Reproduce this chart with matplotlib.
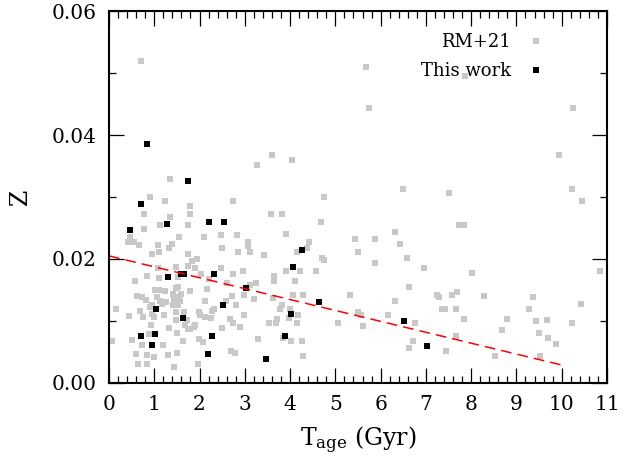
import matplotlib
matplotlib.use('Agg')
from matplotlib import pyplot as plt
from matplotlib.ticker import MultipleLocator

# RM+21 sample (grey)
rm21_age = [0.71, 3.60, 3.26, 1.35, 0.91, 1.24, 2.73, 1.80, 0.77, 1.80, 3.57, 1.35, 1.13, 1.74,
            0.77, 0.46, 0.41, 0.56, 0.66, 1.54, 2.10, 2.47, 2.83, 3.06, 3.07, 1.40, 1.08, 1.33,
            2.50, 1.10, 0.94, 2.86, 3.11, 3.42, 1.75, 1.83, 1.94, 1.75, 1.47, 1.08, 1.91, 2.47,
            2.03, 2.74, 2.95, 0.85, 1.10, 0.57, 1.53, 2.21, 2.60, 3.25, 3.11, 3.64, 3.64, 2.17,
            1.80, 1.53, 1.48, 1.02, 1.10, 1.24, 1.41, 1.58, 0.61, 0.72, 0.82, 1.05, 1.13, 1.54,
            1.57, 1.43, 1.27, 2.11, 2.72, 2.98, 3.20, 3.63, 0.96, 0.91, 1.18, 1.42, 1.52, 2.58,
            2.80, 0.16, 3.78, 0.68, 0.76, 0.96, 1.00, 1.21, 0.44, 1.48, 1.66, 1.98, 2.00, 2.33,
            2.28, 2.25, 2.13, 2.67, 2.98, 1.47, 1.73, 1.67, 1.88, 1.91, 1.75, 0.92, 1.33, 1.51,
            1.80, 2.49, 2.89, 2.75, 3.54, 3.70, 0.88, 0.06, 0.51, 0.72, 1.19, 1.63, 1.99, 2.07,
            3.29, 0.60, 0.85, 1.00, 1.30, 1.50, 2.69, 2.78, 0.63, 0.85, 1.43, 1.96,
            5.68, 5.74, 4.04, 6.50, 7.52, 4.75, 3.82, 4.68, 3.90, 4.41, 4.37, 4.15, 4.71, 4.75,
            3.90, 4.21, 4.57, 4.11, 5.43, 5.87, 5.51, 5.87, 6.31, 6.42, 6.58, 6.95, 6.62, 6.31,
            7.24, 7.30, 7.36, 7.42, 5.32, 6.16, 5.51, 5.56, 5.60, 5.05, 4.29, 4.06, 3.82, 3.77,
            4.00, 4.17, 4.15, 3.98, 3.71, 3.84, 4.02, 4.26, 4.28, 6.75, 6.71, 6.63, 7.44,
            7.87, 10.24, 9.94, 10.22, 10.44, 7.73, 7.84, 8.02, 10.85, 7.57, 7.68, 7.67, 8.28,
            9.37, 9.27, 10.43, 7.84, 8.79, 9.43, 9.68, 10.23, 8.68, 9.50, 7.67, 9.70, 9.87,
            8.53, 9.51]
rm21_z = [0.0520, 0.0368, 0.0352, 0.0329, 0.0300, 0.0294, 0.0294, 0.0286, 0.0273, 0.0273, 0.0273,
          0.0267, 0.0255, 0.0255, 0.0249, 0.0236, 0.0228, 0.0228, 0.0223, 0.0236, 0.0236, 0.0238,
          0.0238, 0.0228, 0.0221, 0.0224, 0.0223, 0.0218, 0.0217, 0.0211, 0.0208, 0.0212, 0.0211,
          0.0207, 0.0208, 0.0197, 0.0200, 0.0189, 0.0187, 0.0185, 0.0186, 0.0186, 0.0176, 0.0176,
          0.0180, 0.0173, 0.0170, 0.0165, 0.0171, 0.0167, 0.0162, 0.0162, 0.0158, 0.0173, 0.0165,
          0.0152, 0.0149, 0.0155, 0.0154, 0.0150, 0.0150, 0.0149, 0.0144, 0.0144, 0.0140, 0.0138,
          0.0134, 0.0138, 0.0133, 0.0138, 0.0133, 0.0134, 0.0130, 0.0133, 0.0140, 0.0142, 0.0136,
          0.0137, 0.0126, 0.0122, 0.0128, 0.0126, 0.0126, 0.0132, 0.0125, 0.0120, 0.0120, 0.0116,
          0.0106, 0.0111, 0.0106, 0.0109, 0.0108, 0.0114, 0.0114, 0.0115, 0.0109, 0.0120, 0.0116,
          0.0105, 0.0106, 0.0104, 0.0109, 0.0101, 0.0102, 0.0094, 0.0091, 0.0093, 0.0087, 0.0094,
          0.0088, 0.0081, 0.0087, 0.0088, 0.0091, 0.0096, 0.0097, 0.0096, 0.0079, 0.0068, 0.0069,
          0.0062, 0.0062, 0.0068, 0.0071, 0.0066, 0.0071, 0.0047, 0.0045, 0.0042, 0.0045, 0.0049,
          0.0051, 0.0049, 0.0030, 0.0031, 0.0026, 0.0031,
          0.0509, 0.0444, 0.0360, 0.0313, 0.0307, 0.0300, 0.0273, 0.0260, 0.0241, 0.0227, 0.0217,
          0.0211, 0.0202, 0.0198, 0.0181, 0.0181, 0.0181, 0.0165, 0.0233, 0.0233, 0.0212, 0.0194,
          0.0244, 0.0224, 0.0202, 0.0186, 0.0155, 0.0133, 0.0142, 0.0139, 0.0120, 0.0119, 0.0142,
          0.0110, 0.0115, 0.0109, 0.0092, 0.0096, 0.0142, 0.0142, 0.0125, 0.0119, 0.0120, 0.0109,
          0.0097, 0.0105, 0.0104, 0.0073, 0.0067, 0.0067, 0.0044, 0.0097, 0.0068, 0.0057, 0.0052,
          0.0495, 0.0444, 0.0368, 0.0313, 0.0294, 0.0255, 0.0255, 0.0178, 0.0181, 0.0142, 0.0146,
          0.0120, 0.0141, 0.0139, 0.0120, 0.0128, 0.0104, 0.0104, 0.0100, 0.0102, 0.0097, 0.0086,
          0.0081, 0.0076, 0.0073, 0.0063, 0.0044, 0.0044]

# this work (black)
this_age = [0.84, 1.75, 0.71, 1.28, 2.22, 2.54, 0.46, 4.26, 4.06, 1.30, 1.58, 1.65, 2.32, 3.02,
            4.63, 2.51, 1.03, 4.01, 1.63, 6.52, 0.71, 1.02, 3.88, 2.27, 0.96, 7.02, 2.18, 3.46]
this_z = [0.0386, 0.0326, 0.0288, 0.0257, 0.0260, 0.0260, 0.0247, 0.0215, 0.0187, 0.0171, 0.0176,
          0.0176, 0.0175, 0.0154, 0.0131, 0.0125, 0.0120, 0.0112, 0.0105, 0.0100, 0.0076, 0.0079,
          0.0076, 0.0076, 0.0062, 0.0059, 0.0047, 0.0038]

# linear trend
fit_age = [0, 10]
fit_z = [0.0205, 0.0029]

plt.rcParams['font.family'] = 'DejaVu Serif'
plt.rcParams['mathtext.fontset'] = 'dejavuserif'

fig = plt.figure(figsize=(6.4, 4.59), dpi=100)
ax = fig.add_axes([0.1703, 0.1656, 0.7781, 0.8104])

ax.plot(rm21_age, rm21_z, 's', color='#c8c8c8', markersize=4.2, markeredgewidth=0, label='RM+21')
ax.plot(this_age, this_z, 's', color='black', markersize=4.6, markeredgewidth=0, label='This work')
ax.plot(fit_age, fit_z, color='red', linewidth=1.1, dashes=(7, 4))

ax.set_xlim(0, 11)
ax.set_ylim(0, 0.06)
ax.xaxis.set_major_locator(MultipleLocator(1))
ax.xaxis.set_minor_locator(MultipleLocator(0.2))
ax.yaxis.set_major_locator(MultipleLocator(0.02))
ax.yaxis.set_minor_locator(MultipleLocator(0.01))
ax.yaxis.set_major_formatter(matplotlib.ticker.FormatStrFormatter('%.2f'))
ax.tick_params(which='both', direction='in', top=True, right=True, labelsize=14.5, width=0.9)
ax.tick_params(which='major', length=10.5, pad=9)
ax.tick_params(which='minor', length=5)
for s in ax.spines.values():
  s.set_linewidth(1.5)

ax.set_xlabel(r'T$_{\rm age}$ (Gyr)', fontsize=17, labelpad=7)
ax.set_ylabel('Z', fontsize=17, labelpad=14)

ax.legend(loc='upper right', bbox_to_anchor=(0.905, 0.985), frameon=False, markerfirst=False,
          fontsize=13, handlelength=0.8, handletextpad=1.0, labelspacing=0.62)

plt.savefig('out.png', dpi=100)
